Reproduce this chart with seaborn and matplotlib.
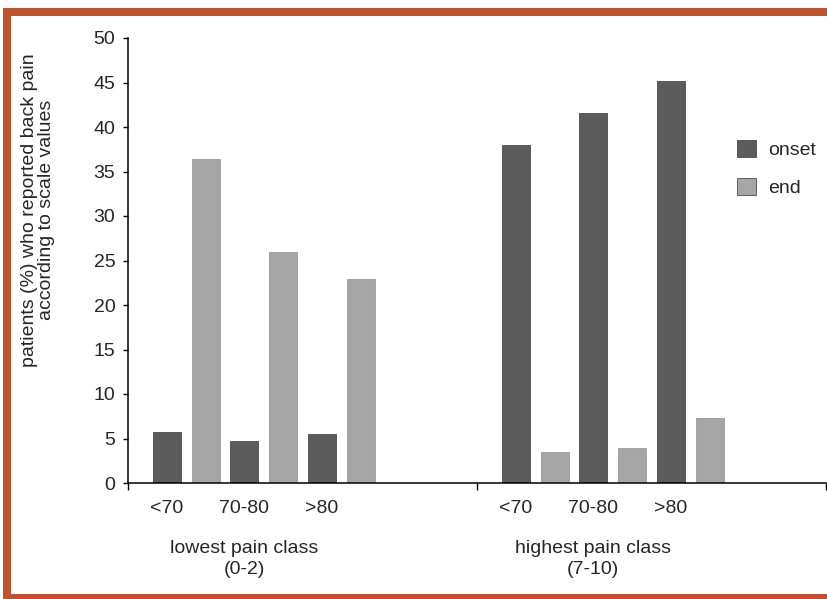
import matplotlib
matplotlib.use("Agg")
import matplotlib.pyplot as plt
from matplotlib.patches import Rectangle
import pandas as pd
import seaborn as sns

# Values (% of patients) per age group and pain class
age_groups = ["<70", "70-80", ">80"]
pain_classes = ["lowest pain class\n(0-2)", "highest pain class\n(7-10)"]
phases = ["onset", "end"]
onset_lowest = [5.7, 4.75, 5.45]
end_lowest = [36.4, 26.0, 22.95]
onset_highest = [38.0, 41.6, 45.2]
end_highest = [3.5, 3.9, 7.3]
y_ticks = [0, 5, 10, 15, 20, 25, 30, 35, 40, 45, 50]

values = {
    (0, "onset"): onset_lowest, (0, "end"): end_lowest,
    (1, "onset"): onset_highest, (1, "end"): end_highest,
}

# One categorical slot per bar, plus empty slots that pad each pain class
rows, order = [], []
for g, cls in enumerate(pain_classes):
    for a, age in enumerate(age_groups):
        for ph in phases:
            slot = f"{g}|{age}|{ph}"
            order.append(slot)
            rows.append({"slot": slot, "phase": ph, "value": values[(g, ph)][a]})
    order += [f"{g}|gap{i}" for i in range(3)]
df = pd.DataFrame(rows)

sns.set_theme(style="white")
plt.rcParams["font.family"] = ["Liberation Sans", "DejaVu Sans"]
FS = 14

fig = plt.figure(figsize=(8.27, 5.99), dpi=100)
ax = fig.add_axes([128 / 827, 1 - 483 / 599, 698 / 827, 445 / 599])

palette = {"onset": "#5b5b5b", "end": "#a6a6a6"}
sns.barplot(data=df, x="slot", y="value", hue="phase", order=order,
            hue_order=phases, palette=palette, dodge=False, width=0.72,
            saturation=1, linewidth=0.6, edgecolor="#4d4d4d", ax=ax)
for patch in ax.patches:
    if patch.get_facecolor()[0] > 0.5:
        patch.set_edgecolor("#9a9a9a")

ax.set_xlim(-1, 17)
ax.set_ylim(0, 50)
ax.set_yticks(y_ticks)
ax.set_ylabel("")
ax.set_xlabel("")

# Class boundaries as major ticks, age labels under the onset bars
ax.set_xticks([-1, 8, 17])
ax.set_xticklabels([])
age_pos = [order.index(f"{g}|{age}|onset") for g in range(2) for age in age_groups]
ax.set_xticks(age_pos, minor=True)
ax.set_xticklabels(age_groups * 2, minor=True, fontsize=FS)
ax.tick_params(axis="x", which="minor", length=0, pad=12)
ax.tick_params(axis="x", which="major", direction="out", length=5, width=1, color="black", bottom=True)
ax.tick_params(axis="y", direction="out", length=3.6, width=1, color="black", left=True, labelsize=FS, pad=5.5)

for s in ["top", "right"]:
    ax.spines[s].set_visible(False)
for s in ["left", "bottom"]:
    ax.spines[s].set_color("black")
    ax.spines[s].set_linewidth(1.1)

# Pain class captions
for g, cls in enumerate(pain_classes):
    x = order.index(f"{g}|70-80|onset")
    ax.annotate(cls, xy=(x, 0), xycoords=("data", "axes fraction"),
                xytext=(0, -76), textcoords="offset pixels",
                ha="center", va="center", fontsize=FS, linespacing=1.25,
                annotation_clip=False)

fig.text(38 / 827, 1 - 210 / 599,
         "patients (%) who reported back pain\naccording to scale values",
         rotation=90, ha="center", va="center", fontsize=FS,
         multialignment="center", linespacing=1.05)

sns.move_legend(ax, loc="upper left", bbox_to_anchor=(737 / 827, 1 - 140 / 599),
                bbox_transform=fig.transFigure, frameon=False, title=None,
                fontsize=FS, handlelength=1.0, handleheight=1.0,
                handletextpad=0.6, labelspacing=0.95, borderpad=0,
                borderaxespad=0)

# Orange frame around the figure
frame = "#c0532b"
fig.add_artist(Rectangle((3 / 827, 1 - 16 / 599), 824 / 827, 8 / 599,
                         transform=fig.transFigure, color=frame, lw=0))
fig.add_artist(Rectangle((3 / 827, 0), 8 / 827, 1 - 8 / 599,
                         transform=fig.transFigure, color=frame, lw=0))
fig.add_artist(Rectangle((3 / 827, 0), 824 / 827, 5 / 599,
                         transform=fig.transFigure, color=frame, lw=0))

fig.savefig("out.png", dpi=100)
